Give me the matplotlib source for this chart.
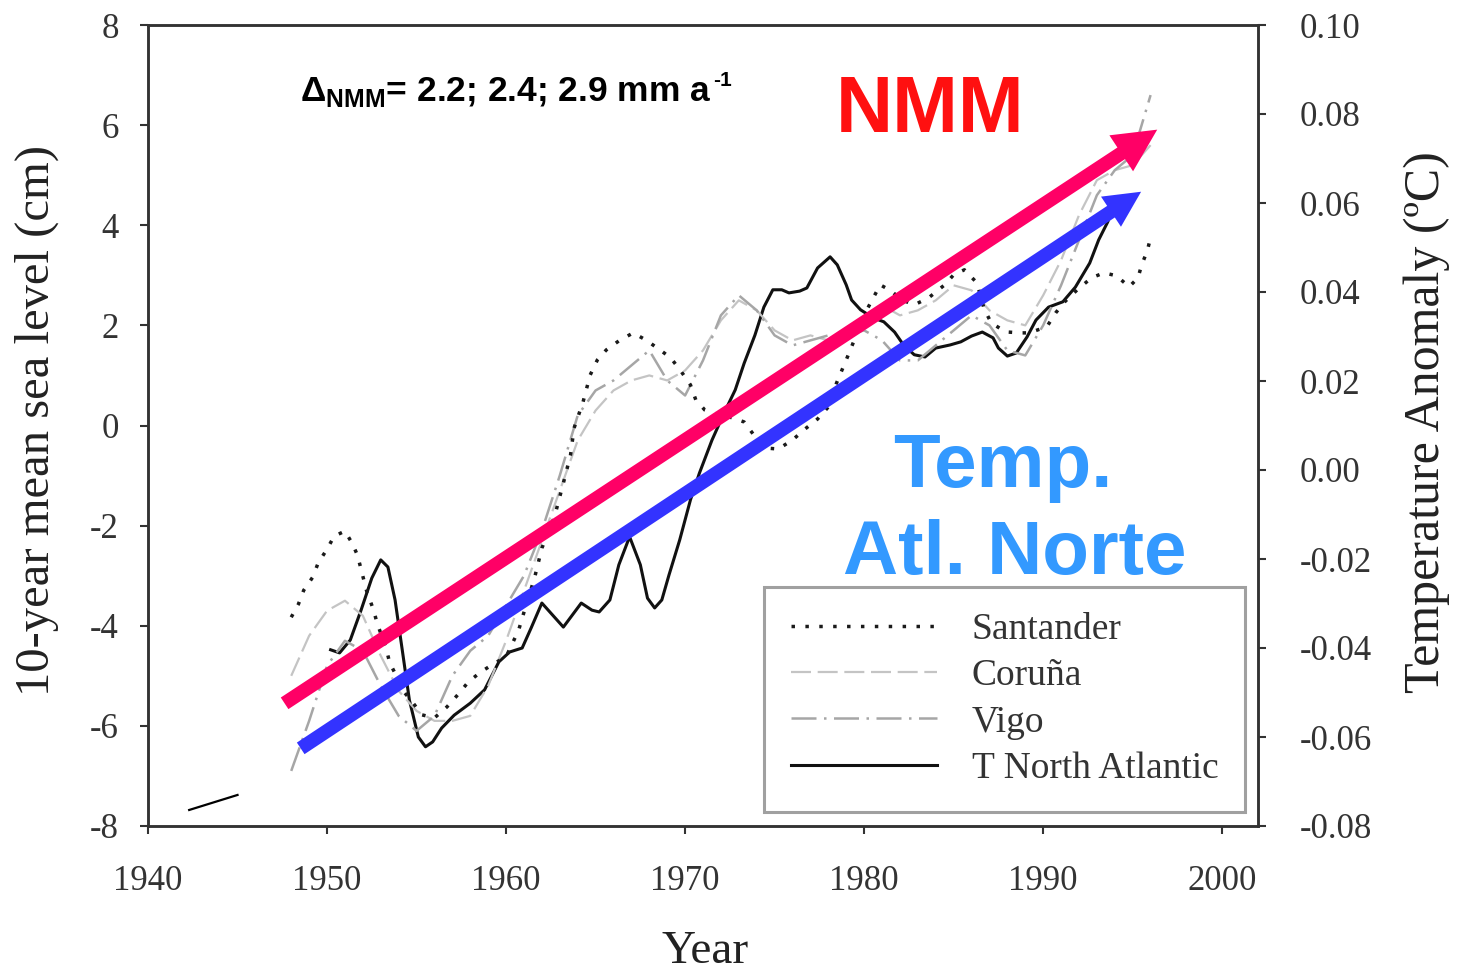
import matplotlib
matplotlib.use("Agg")
import matplotlib.pyplot as plt
from matplotlib.lines import Line2D
from matplotlib.patches import FancyArrowPatch

plt.rcParams["axes.unicode_minus"] = False
plt.rcParams["mathtext.fontset"] = "custom"
plt.rcParams["mathtext.rm"] = "Liberation Sans:bold"
plt.rcParams["mathtext.bf"] = "Liberation Sans:bold"

# --- datos ---
# Santander (cm)
sant_year = [1948.0, 1948.4, 1948.7, 1949.2, 1949.5, 1950.0, 1950.4, 1951.0, 1951.4,
             1951.7, 1951.9, 1952.2, 1952.6, 1952.8, 1953.3, 1953.5, 1953.9, 1954.2,
             1954.8, 1955.3, 1956.0, 1956.7, 1957.3, 1957.9, 1958.6, 1959.4, 1960.0,
             1960.7, 1961.0, 1961.6, 1962.0, 1962.7, 1963.2, 1963.6, 1963.8, 1964.3,
             1964.7, 1965.1, 1965.6, 1966.3, 1967.1, 1967.8, 1968.6, 1969.2, 1969.8,
             1970.3, 1970.6, 1971.1, 1971.9, 1972.7, 1973.3, 1973.8, 1974.5, 1975.2,
             1976.0, 1976.7, 1977.4, 1978.0, 1978.3, 1978.6, 1979.0, 1979.5, 1980.0,
             1980.9, 1981.5, 1982.1, 1982.8, 1983.6, 1984.5, 1985.0, 1985.6, 1986.3,
             1986.7, 1987.1, 1987.9, 1988.7, 1989.2, 1990.2, 1990.7, 1991.2, 1991.9,
             1992.7, 1993.4, 1994.1, 1994.8, 1995.3, 1995.5, 1995.8, 1996.0]
sant_cm = [-3.83, -3.57, -3.29, -3.03, -2.75, -2.47, -2.21, -2.11, -2.35,
           -2.59, -2.87, -3.29, -3.69, -3.95, -4.45, -4.74, -5.02, -5.28,
           -5.54, -5.78, -5.84, -5.62, -5.38, -5.12, -4.92, -4.74, -4.62,
           -4.09, -3.73, -3.03, -2.45, -1.83, -1.15, -0.59, -0.05, 0.47,
           1.01, 1.31, 1.51, 1.69, 1.85, 1.71, 1.51, 1.35, 1.07,
           0.81, 0.51, 0.31, 0.21, 0.15, 0.07, -0.17, -0.45, -0.47,
           -0.29, -0.07, 0.13, 0.37, 0.71, 0.97, 1.31, 1.75, 2.21,
           2.81, 2.69, 2.51, 2.41, 2.55, 2.81, 3.01, 3.11, 2.85,
           2.33, 2.05, 1.87, 1.85, 1.85, 1.97, 2.25, 2.47, 2.71,
           2.95, 3.05, 2.99, 2.77, 2.95, 3.21, 3.47, 3.75]

# Coruna (cm)
cor_year = [1948, 1949, 1950, 1951, 1952, 1953, 1954, 1955, 1956, 1957, 1958, 1959,
            1960, 1961, 1962, 1963, 1964, 1965, 1966, 1967, 1968, 1969, 1970, 1971,
            1972, 1973, 1974, 1975, 1976, 1977, 1978, 1979, 1980, 1981, 1982, 1983,
            1984, 1985, 1986, 1987, 1988, 1989, 1990, 1991, 1992, 1993, 1994, 1995, 1996]
cor_cm = [-5.0, -4.2, -3.7, -3.5, -3.8, -4.6, -5.3, -5.7, -5.9, -5.9, -5.8, -5.2,
          -4.3, -3.3, -2.3, -1.3, -0.3, 0.3, 0.7, 0.9, 1.0, 0.9, 1.1, 1.5,
          2.1, 2.5, 2.3, 1.9, 1.7, 1.8, 1.7, 1.7, 2.1, 2.4, 2.2, 2.3,
          2.5, 2.8, 2.7, 2.3, 2.1, 2.0, 2.6, 3.3, 4.2, 4.9, 5.1, 5.2, 5.6]

# Vigo (cm)
vigo_year = cor_year
vigo_cm = [-6.9, -5.9, -4.8, -4.3, -4.5, -5.2, -5.8, -6.1, -5.8, -5.0, -4.5, -4.2,
           -3.6, -3.0, -2.1, -1.0, 0.2, 0.7, 0.9, 1.2, 1.5, 0.9, 0.6, 1.3,
           2.2, 2.6, 2.3, 1.8, 1.6, 1.7, 1.8, 1.8, 1.9, 1.7, 1.3, 1.3,
           1.6, 1.9, 2.2, 2.0, 1.5, 1.4, 2.0, 2.8, 3.7, 4.6, 5.1, 5.4, 6.6]

# T North Atlantic (ºC, eje derecho)
tna_year = [1950.2, 1950.7, 1951.3, 1951.9, 1952.5, 1953.0, 1953.4, 1953.8, 1954.2,
            1954.6, 1955.1, 1955.5, 1955.9, 1956.4, 1957.1, 1958.0, 1958.8, 1959.6,
            1960.2, 1960.9, 1961.4, 1962.0, 1962.6, 1963.2, 1963.7, 1964.2, 1964.8,
            1965.2, 1965.8, 1966.3, 1966.9, 1967.5, 1967.9, 1968.3, 1968.7, 1969.1,
            1969.7, 1970.3, 1970.8, 1971.5, 1972.2, 1972.8, 1973.3, 1973.9, 1974.4,
            1974.9, 1975.4, 1975.8, 1976.4, 1976.8, 1977.4, 1978.1, 1978.5, 1979.0,
            1979.3, 1979.8, 1980.5, 1981.1, 1981.7, 1982.2, 1982.8, 1983.4, 1984.0,
            1984.8, 1985.4, 1986.0, 1986.6, 1987.2, 1987.5, 1988.0, 1988.5, 1989.1,
            1989.6, 1990.3, 1991.1, 1991.8, 1992.6, 1993.1, 1993.6, 1994.1]
tna_t = [-0.0404, -0.0411, -0.0382, -0.0315, -0.0243, -0.0202, -0.0218, -0.0292, -0.0404,
         -0.0517, -0.0600, -0.0622, -0.0611, -0.0580, -0.0551, -0.0524, -0.0494, -0.0431,
         -0.0409, -0.0400, -0.0355, -0.0299, -0.0326, -0.0353, -0.0326, -0.0299, -0.0315,
         -0.0319, -0.0292, -0.0213, -0.0150, -0.0213, -0.0288, -0.0310, -0.0292, -0.0236,
         -0.0157, -0.0067, -0.0007, 0.0067, 0.0130, 0.0180, 0.0240, 0.0303, 0.0366,
         0.0405, 0.0405, 0.0398, 0.0402, 0.0409, 0.0454, 0.0479, 0.0461, 0.0416,
         0.0382, 0.0360, 0.0342, 0.0333, 0.0310, 0.0281, 0.0259, 0.0254, 0.0274,
         0.0281, 0.0288, 0.0301, 0.0310, 0.0297, 0.0274, 0.0256, 0.0263, 0.0299,
         0.0337, 0.0366, 0.0378, 0.0411, 0.0465, 0.0517, 0.0557, 0.0607]

# trazo suelto abajo a la izquierda
stub_year = [1942.3, 1945.0]
stub_cm = [-7.68, -7.38]

# flechas de tendencia (año, cm)
nmm_arrow = [(1947.5, -5.58), (1996.5, 5.94)]
temp_arrow = [(1948.4, -6.48), (1995.6, 4.70)]

labels = ["Santander", "Coruña", "Vigo", "T North Atlantic"]

serif = "Liberation Serif"
sans = "Liberation Sans"
ink = "#222222"

fig = plt.figure(figsize=(14.62, 9.76), dpi=100)
ax = fig.add_axes([148 / 1462, 1 - 826 / 976, 1110 / 1462, 801 / 976])
ax2 = ax.twinx()

ax.plot(cor_year, cor_cm, color="#c4c4c4", lw=1.6, linestyle=(0, (9, 3)))
ax.plot(vigo_year, vigo_cm, color="#a6a6a6", lw=1.8, linestyle=(0, (10, 3, 1, 3)))
ax.plot(sant_year, sant_cm, color="#1a1a1a", lw=2.5, linestyle=(0, (1, 3.0)))
ax.plot(stub_year, stub_cm, color="black", lw=1.6)
ax2.plot(tna_year, tna_t, color="#111111", lw=2.2)

ax.set_xlim(1940, 2002)
ax.set_ylim(-8, 8)
ax2.set_ylim(-0.08, 0.10)
ax.set_xticks(range(1940, 2001, 10))
ax.set_yticks(range(-8, 9, 2))
ax2.set_yticks([-0.08, -0.06, -0.04, -0.02, 0.0, 0.02, 0.04, 0.06, 0.08, 0.10])
ax2.set_yticklabels([f"{v:.2f}" for v in ax2.get_yticks()])

for a in (ax, ax2):
    for s in a.spines.values():
        s.set_linewidth(1.8)
        s.set_color("#333333")
    a.tick_params(direction="out", length=6, width=1.5, colors="#333333",
                  labelsize=25)
    for lab in a.get_xticklabels() + a.get_yticklabels():
        lab.set_family(serif)
ax.tick_params(axis="x", pad=22)
ax.tick_params(axis="y", pad=15)
ax2.tick_params(axis="y", pad=24)

fig.text(705 / 1462, 1 - 952 / 976, "Year", family=serif, fontsize=34,
         color=ink, ha="center", va="center")
fig.text(37 / 1462, 1 - 420 / 976, "10-year mean sea level (cm)", family=serif,
         fontsize=35, color=ink, rotation=90, ha="center", va="center")
fig.text(1427 / 1462, 1 - 422 / 976, "Temperature Anomaly (ºC)", family=serif,
         fontsize=36, color=ink, rotation=90, ha="center", va="center")

# capa principal por encima del eje gemelo
ax.set_zorder(ax2.get_zorder() + 1)
ax.patch.set_visible(False)

for (p0, p1), col, hw in [(nmm_arrow, "#ff0066", 3.1), (temp_arrow, "#3333ff", 2.6)]:
    arr = FancyArrowPatch(p0, p1, transform=ax.transData,
                          arrowstyle=f"simple,head_length={hw},head_width={hw},tail_width=1.0",
                          mutation_scale=10, color=col, lw=0, zorder=5)
    ax.add_patch(arr)

handles = [
    Line2D([], [], color="#1a1a1a", lw=2.5, linestyle=(0, (1, 3.0))),
    Line2D([], [], color="#c4c4c4", lw=1.6, linestyle=(0, (9, 3))),
    Line2D([], [], color="#a6a6a6", lw=1.8, linestyle=(0, (10, 3, 1, 3))),
    Line2D([], [], color="#111111", lw=2.2),
]
leg = ax.legend(handles, labels, loc="lower right", bbox_to_anchor=(0.988, 0.0175),
                borderaxespad=0, fancybox=False, framealpha=1, edgecolor="#a0a0a0",
                prop={"family": serif, "size": 27}, handlelength=3.9,
                handletextpad=0.93, labelspacing=0.31, borderpad=0.7)
leg.get_frame().set_linewidth(2.2)
for t in leg.get_texts():
    t.set_color("#333333")

delta = fig.text(300 / 1462, 1 - 101 / 976,
                 r"$\Delta_{\mathrm{NMM}}$= 2.2; 2.4; 2.9 mm a",
                 family=sans, weight="bold", fontsize=25.5, color="black",
                 ha="left", va="baseline", zorder=10)
fig.canvas.draw()
bb = delta.get_window_extent()
fig.text((bb.x1 + 2) / 1462, 1 - 86 / 976, "-1", family=sans, weight="bold",
         fontsize=15, color="black", ha="left", va="baseline")

fig.text(930 / 1462, 1 - 132 / 976, "NMM", family=sans, weight="bold",
         fontsize=57, color="#ff1010", ha="center", va="baseline")
fig.text(1003 / 1462, 1 - 487 / 976, "Temp.", family=sans, weight="bold",
         fontsize=55, color="#3399ff", ha="center", va="baseline")
fig.text(1015 / 1462, 1 - 574 / 976, "Atl. Norte", family=sans, weight="bold",
         fontsize=55, color="#3399ff", ha="center", va="baseline")

fig.savefig("out.png", dpi=100)
